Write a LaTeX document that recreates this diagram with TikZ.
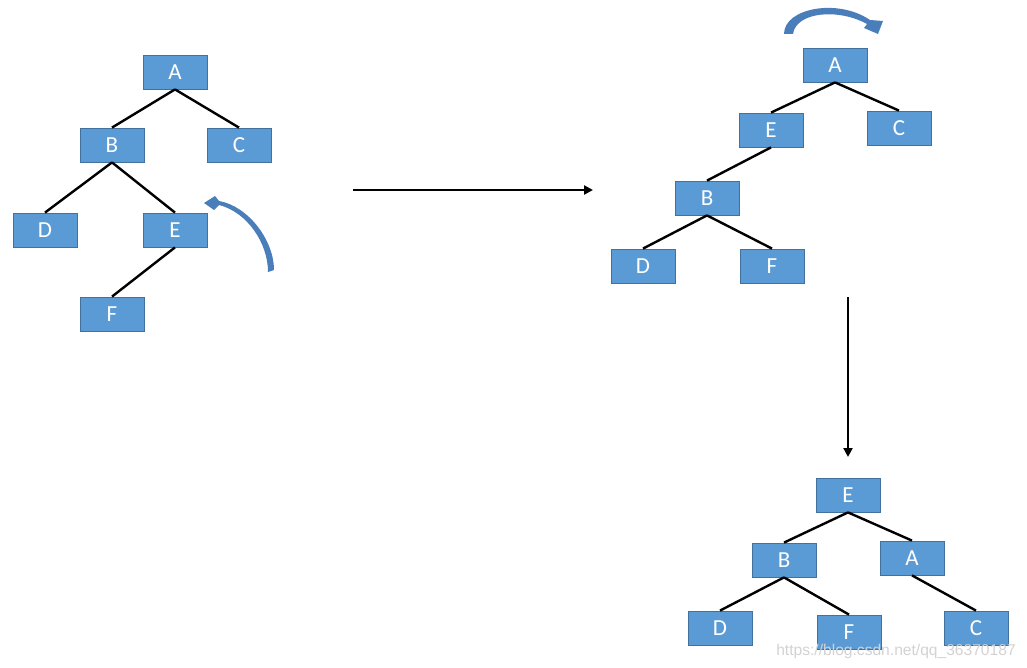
\documentclass[tikz,border=0pt]{standalone}
\usepackage{fontspec}
\setmainfont{Carlito}
\newfontfamily\wmfont{Liberation Sans}
\usetikzlibrary{arrows.meta}
\definecolor{boxfill}{HTML}{5B9BD5}
\definecolor{boxline}{HTML}{41719C}
\definecolor{curvecol}{HTML}{4A7EBB}
\tikzset{
  tbox/.style={draw=boxline, line width=0.8pt, fill=boxfill, text=white, minimum width=64pt, minimum height=34pt, inner sep=0pt, font=\fontsize{23}{23}\selectfont},
  edge/.style={line width=2.4pt, black},
  flow/.style={line width=2.4pt, black, -{Triangle[length=9pt,width=9pt]}}
}
\begin{document}
\begin{tikzpicture}[x=1pt,y=-1pt]
\useasboundingbox (0,0) rectangle (1027,668);
% left tree
\node[tbox] (lA) at (175,72) {A};
\node[tbox] (lB) at (112,145) {B};
\node[tbox] (lC) at (239,145) {C};
\node[tbox] (lD) at (45,230) {D};
\node[tbox] (lE) at (175,230) {E};
\node[tbox] (lF) at (112,314) {F};
\draw[edge] (lA.south) -- (lB.north);
\draw[edge] (lA.south) -- (lC.north);
\draw[edge] (lB.south) -- (lD.north);
\draw[edge] (lB.south) -- (lE.north);
\draw[edge] (lE.south) -- (lF.north);
% right top tree
\node[tbox] (rA) at (835,65) {A};
\node[tbox] (rE) at (771,130) {E};
\node[tbox] (rC) at (899,128) {C};
\node[tbox] (rB) at (707,198) {B};
\node[tbox] (rD) at (643,266) {D};
\node[tbox] (rF) at (772,266) {F};
\draw[edge] (rA.south) -- (rE.north);
\draw[edge] (rA.south) -- (rC.north);
\draw[edge] (rE.south) -- (rB.north);
\draw[edge] (rB.south) -- (rD.north);
\draw[edge] (rB.south) -- (rF.north);
% bottom tree
\node[tbox] (bE) at (848,495) {E};
\node[tbox] (bB) at (784,560) {B};
\node[tbox] (bA) at (912,558) {A};
\node[tbox] (bD) at (720,628) {D};
\node[tbox] (bF) at (849,632) {F};
\node[tbox] (bC) at (976,628) {C};
\draw[edge] (bE.south) -- (bB.north);
\draw[edge] (bE.south) -- (bA.north);
\draw[edge] (bB.south) -- (bD.north);
\draw[edge] (bB.south) -- (bF.north);
\draw[edge] (bA.south) -- (bC.north);
% flow arrows
\coordinate (h1) at (353,190);
\coordinate (h2) at (593,190);
\coordinate (v1) at (848,297);
\coordinate (v2) at (848,457);
\draw[flow] (h1) -- (h2);
\draw[flow] (v1) -- (v2);
% curved arrows
\fill[curvecol] (268,272) .. controls (268,243) and (247,212) .. (219,205)
  -- (214,210) -- (204,203) -- (215,196) -- (219,201)
  .. controls (248,206) and (274,240) .. (274,270) -- cycle;
\fill[curvecol] (793,34) -- (784,34) .. controls (784,8) and (838,-2) .. (870,20)
  -- (883,21) -- (878,34) -- (864,28) -- (867,24)
  .. controls (838,8) and (796,12) .. (793,34) -- cycle;
% watermark
\node[text=gray!35, font=\wmfont\fontsize{15.6}{15.6}\selectfont, inner sep=0pt] (wm) at (896,651) {https://blog.csdn.net/qq\_36370187};
\end{tikzpicture}
\end{document}
